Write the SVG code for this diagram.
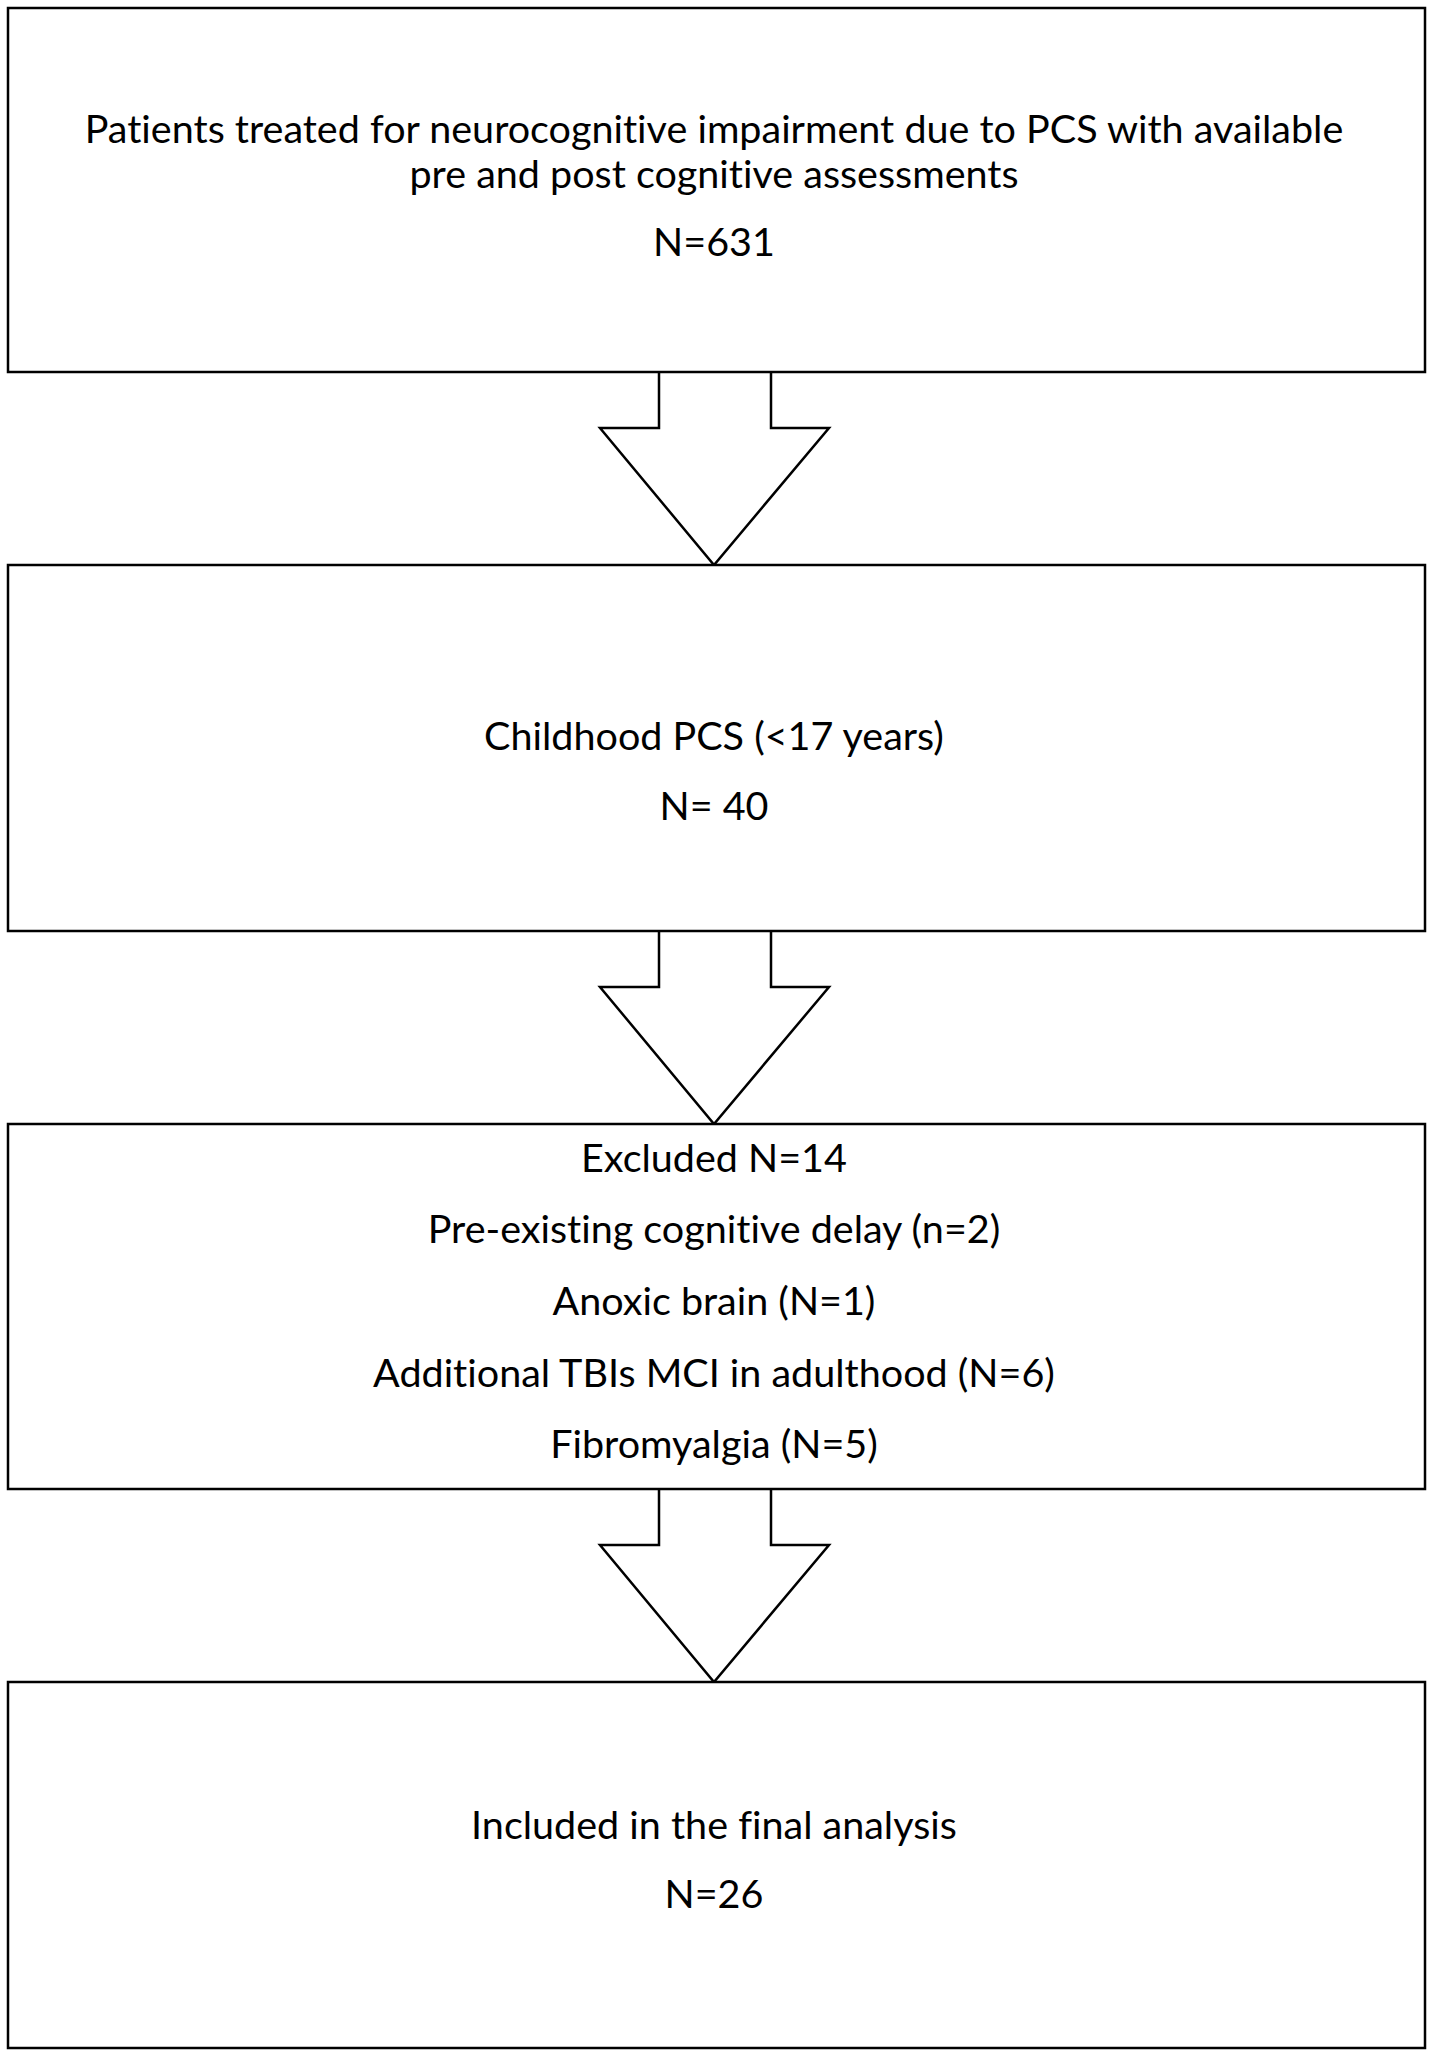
<svg xmlns="http://www.w3.org/2000/svg" width="1429" height="2053" viewBox="0 0 1429 2053">
<style>
.b{fill:#fff;stroke:#000;stroke-width:2.5}
.a{fill:#fff;stroke:#000;stroke-width:2.5;stroke-linejoin:miter}
text{font-family:Lato,"Open Sans",sans-serif;font-size:39.5px;fill:#000;text-anchor:middle;font-variant-ligatures:none}
</style>
<rect width="1429" height="2053" fill="#fff"/>
<g id="connectors">
<path class="a" d="M659,372 V428 H600 L714,565 L829,428 H771 V372"/>
<path class="a" d="M659,931 V987 H600 L714,1124 L829,987 H771 V931"/>
<path class="a" d="M659,1489 V1545 H600 L714,1682 L829,1545 H771 V1489"/>
</g>
<g id="n1"><rect class="b" x="8" y="8" width="1417" height="364"/>
<text x="714" y="143">Patients treated for neurocognitive impairment due to PCS with available</text>
<text x="714" y="188">pre and post cognitive assessments</text>
<text x="714" y="256">N=631</text></g>
<g id="n2"><rect class="b" x="8" y="565" width="1417" height="366"/>
<text x="714" y="750">Childhood PCS (&lt;17 years)</text>
<text x="714" y="820">N= 40</text></g>
<g id="n3"><rect class="b" x="8" y="1124" width="1417" height="365"/>
<text x="714" y="1172">Excluded N=14</text>
<text x="714" y="1243">Pre-existing cognitive delay (n=2)</text>
<text x="714" y="1315">Anoxic brain (N=1)</text>
<text x="714" y="1387">Additional TBIs MCI in adulthood (N=6)</text>
<text x="714" y="1458">Fibromyalgia (N=5)</text></g>
<g id="n4"><rect class="b" x="8" y="1682" width="1417" height="366"/>
<text x="714" y="1839">Included in the final analysis</text>
<text x="714" y="1908">N=26</text></g>
</svg>
